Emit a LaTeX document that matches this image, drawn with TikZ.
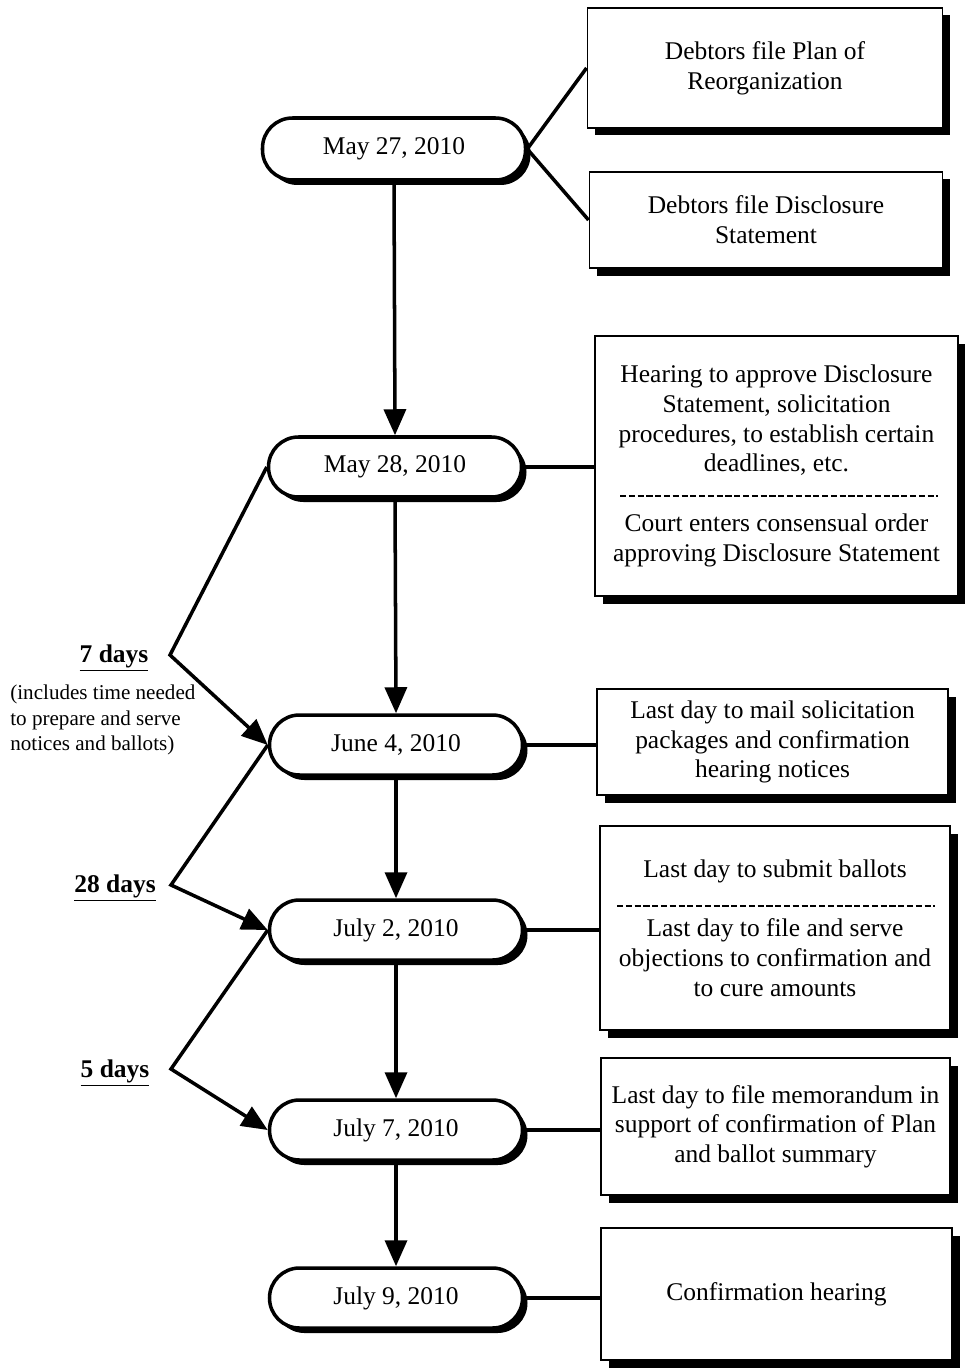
\documentclass[tikz,border=0pt]{standalone}
\usepackage{fontspec}
\setmainfont{Liberation Serif}
\usetikzlibrary{arrows.meta,shadows}
\begin{document}
\begin{tikzpicture}[>={Triangle[length=0.52cm,width=0.44cm]},
    datepill/.style={draw,line width=2pt,rounded corners=0.6cm,fill=white,minimum width=5.06cm,minimum height=1.2cm,font=\fontsize{14.5}{17}\selectfont,drop shadow={shadow xshift=0.1cm,shadow yshift=-0.1cm,opacity=1,fill=black}},
    eventbox/.style={draw,line width=1.1pt,fill=white,align=center,font=\fontsize{14.5}{16.9}\selectfont,drop shadow={shadow xshift=0.15cm,shadow yshift=-0.15cm,opacity=1,fill=black}},
    link/.style={line width=2pt},
    gaplabel/.style={font=\fontsize{14.5}{17}\selectfont\bfseries},
    sepline/.style={line width=1pt,dash pattern=on 3.5pt off 1.5pt}]
    \useasboundingbox (0,0) rectangle (19.28,-27.4);
    % dates
    \node[datepill,minimum width=5.26cm,minimum height=1.24cm] (d1) at (7.88,-2.98) {May 27, 2010};
    \node[datepill] (d2) at (7.9,-9.34) {May 28, 2010};
    \node[datepill] (d3) at (7.92,-14.9) {June 4, 2010};
    \node[datepill] (d4) at (7.92,-18.6) {July 2, 2010};
    \node[datepill] (d5) at (7.92,-22.6) {July 7, 2010};
    \node[datepill] (d6) at (7.92,-25.96) {July 9, 2010};
    % events
    \node[eventbox,minimum width=7.1cm,minimum height=2.4cm] (plan) at (15.3,-1.36) {Debtors file Plan of\\Reorganization};
    \node[eventbox,minimum width=7.06cm,minimum height=1.92cm] (disc) at (15.32,-4.4) {Debtors file Disclosure\\Statement};
    \node[eventbox,minimum width=7.26cm,minimum height=5.2cm] (hearing) at (15.53,-9.32) {Hearing to approve Disclosure\\Statement, solicitation\\procedures, to establish certain\\deadlines, etc.\\[0.6cm]Court enters consensual order\\approving Disclosure Statement};
    \node[eventbox,minimum width=7.02cm,minimum height=2.12cm] (mail) at (15.45,-14.84) {Last day to mail solicitation\\packages and confirmation\\hearing notices};
    \node[eventbox,minimum width=7cm,minimum height=4.08cm] (ballots) at (15.5,-18.56) {Last day to submit ballots\\[0.6cm]Last day to file and serve\\objections to confirmation and\\to cure amounts};
    \node[eventbox,minimum width=6.98cm,minimum height=2.74cm] (memo) at (15.51,-22.53) {Last day to file memorandum in\\support of confirmation of Plan\\and ballot summary};
    \node[eventbox,minimum width=7.02cm,minimum height=2.64cm] (confirm) at (15.53,-25.88) {Confirmation hearing};
    \draw[sepline] (12.4,-9.92) -- (18.76,-9.92);
    \draw[sepline] (12.34,-18.12) -- (18.7,-18.12);
    % gaps
    \node[gaplabel] (gap1) at (2.28,-13.16) {\underline{7 days}};
    \node[font=\fontsize{12}{14.7}\selectfont,align=left,anchor=west,inner sep=0pt] (gap1note) at (0.2,-14.4) {(includes time needed\\to prepare and serve\\notices and ballots)};
    \node[gaplabel] (gap2) at (2.3,-17.76) {\underline{28 days}};
    \node[gaplabel] (gap3) at (2.3,-21.46) {\underline{5 days}};
    \coordinate (bend1) at (3.4,-13.1);
    \coordinate (bend2) at (3.42,-17.7);
    \coordinate (bend3) at (3.42,-21.38);
    % links
    \draw[link] (d1.east) -- (plan.west);
    \draw[link] (d1.east) -- (disc.west);
    \draw[link] (d2.east) -- (d2.east -| hearing.west);
    \draw[link] (d3.east) -- (d3.east -| mail.west);
    \draw[link] (d4.east) -- (d4.east -| ballots.west);
    \draw[link] (d5.east) -- (d5.east -| memo.west);
    \draw[link] (d6.east) -- (d6.east -| confirm.west);
    \draw[link,->] (d1.south) -- (d2.north);
    \draw[link,->] (d2.south) -- (d3.north);
    \draw[link,->] (d3.south) -- (d4.north);
    \draw[link,->] (d4.south) -- (d5.north);
    \draw[link,->] (d5.south) -- (d6.north);
    \draw[link,->] (d2.west) -- (bend1) -- (d3.west);
    \draw[link,->] (d3.west) -- (bend2) -- (d4.west);
    \draw[link,->] (d4.west) -- (bend3) -- (d5.west);
\end{tikzpicture}
\end{document}
